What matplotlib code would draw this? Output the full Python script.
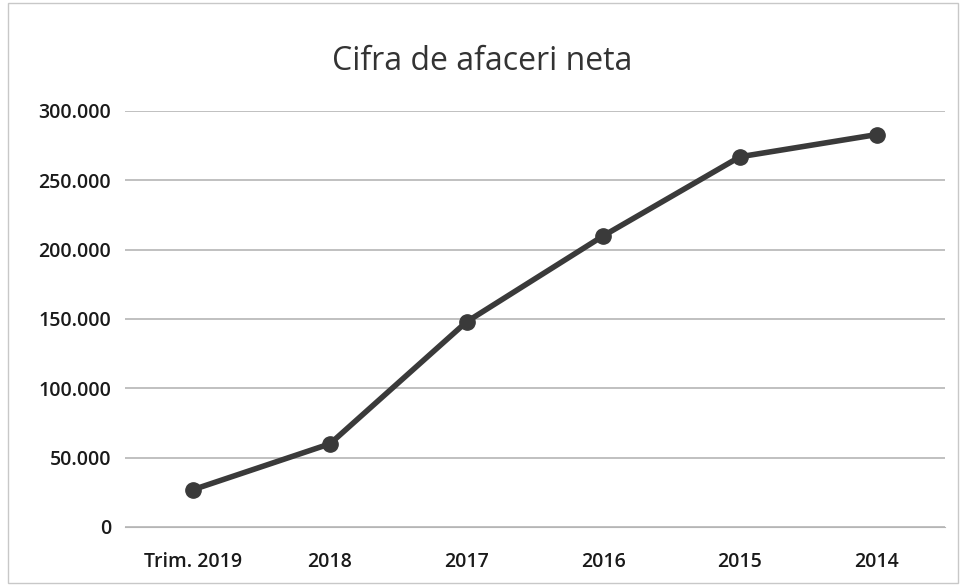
import matplotlib.pyplot as plt
from matplotlib.ticker import FuncFormatter
from matplotlib.patches import Rectangle

categories = ['Trim. 2019', '2018', '2017', '2016', '2015', '2014']
values = [27000, 60000, 148000, 210000, 267000, 283000]
yticks = [0, 50000, 100000, 150000, 200000, 250000, 300000]

plt.rcParams['font.family'] = ['Open Sans', 'DejaVu Sans']

fig = plt.figure(figsize=(9.65, 5.86), dpi=100)
ax = fig.add_axes([125 / 965, 59 / 586, 820 / 965, 416 / 586])

x = list(range(len(categories)))
ax.plot(x, values, color='#3a3a3a', linewidth=4, marker='o', markersize=11,
        markerfacecolor='#3a3a3a', markeredgecolor='#3a3a3a', zorder=3)

ax.set_xlim(-0.5, len(categories) - 0.5)
ax.set_ylim(0, 300000)
ax.set_yticks(yticks)
ax.yaxis.set_major_formatter(FuncFormatter(lambda v, p: '0' if v == 0 else f'{int(v):,}'.replace(',', '.')))
ax.set_xticks(x)
ax.set_xticklabels(categories)

ax.grid(axis='y', color='#b5b5b5', linewidth=1.2)
ax.set_axisbelow(True)
for s in ax.spines.values():
    s.set_visible(False)
ax.spines['bottom'].set_visible(True)
ax.spines['bottom'].set_color('#b5b5b5')
ax.tick_params(length=0, labelsize=14, colors='#1a1a1a', pad=10)
ax.tick_params(axis='x', pad=18)
for lab in ax.get_xticklabels() + ax.get_yticklabels():
    lab.set_fontweight('semibold')

fig.text(0.5, 1 - 62 / 586, 'Cifra de afaceri neta', ha='center', va='center',
         fontsize=23, color='#333333')

fig.patches.append(Rectangle((0.008, 0.005), 0.985, 0.99, transform=fig.transFigure,
                             fill=False, edgecolor='#c8c8c8', linewidth=1))

fig.savefig('out.png', dpi=100)
